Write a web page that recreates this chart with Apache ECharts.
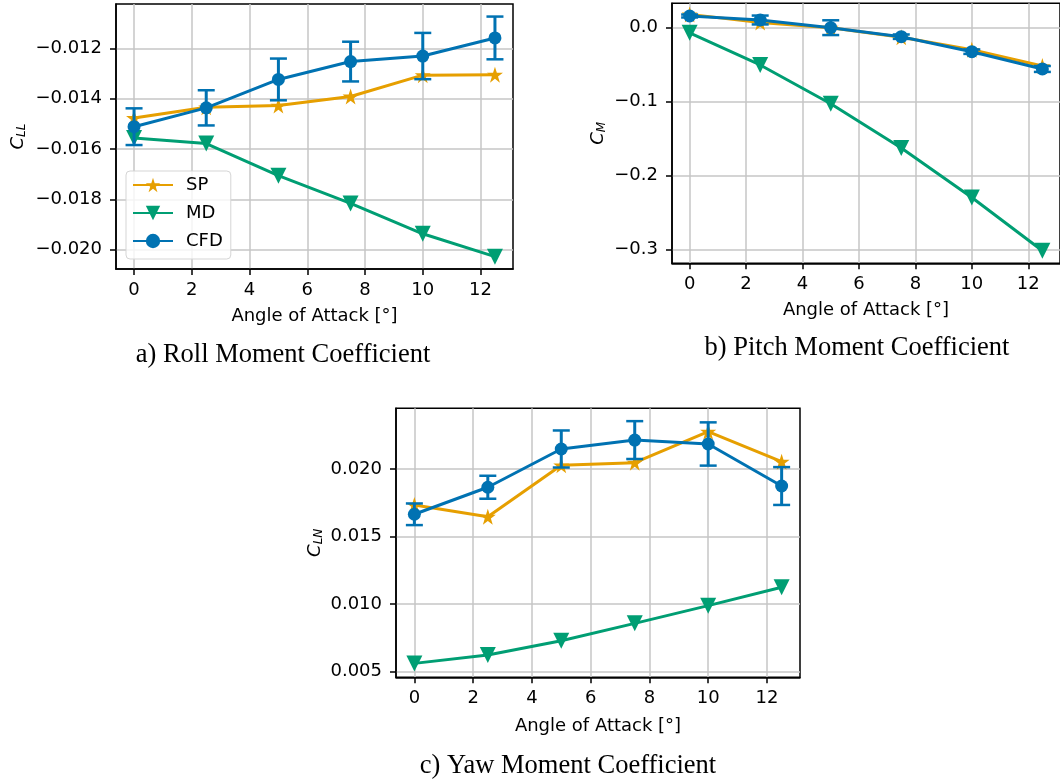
<!DOCTYPE html>
<html>
<head>
<meta charset="utf-8">
<script src="https://cdn.jsdelivr.net/npm/echarts@6/dist/echarts.min.js"></script>
<style>html,body{margin:0;padding:0;background:#fff}#c{width:1060px;height:783px}</style>
</head>
<body>
<div id="c"></div>
<script>
// ---- data ----
const aoa = [0, 2.5, 5, 7.5, 10, 12.5];
const xTicks = [0, 2, 4, 6, 8, 10, 12];

// a) Roll moment coefficient
const rollSP = [-0.01476, -0.01434, -0.01427, -0.01391, -0.01306, -0.01304];
const rollMD = [-0.01556, -0.01578, -0.01706, -0.01816, -0.01937, -0.02028];
const rollCFD = [-0.01511, -0.01436, -0.01323, -0.01252, -0.01230, -0.01158];
const rollCFDErr = [0.00073, 0.00070, 0.00083, 0.00079, 0.00092, 0.00085];
const rollTicks = [-0.020, -0.018, -0.016, -0.014, -0.012];

// b) Pitch moment coefficient
const pitchSP = [0.018, 0.007, 0.000, -0.013, -0.030, -0.052];
const pitchMD = [-0.007, -0.0505, -0.103, -0.163, -0.230, -0.302];
const pitchCFD = [0.0158, 0.0104, 0.0000, -0.0122, -0.0325, -0.0559];
const pitchCFDErr = [0.002, 0.006, 0.010, 0.003, 0.003, 0.004];
const pitchTicks = [-0.3, -0.2, -0.1, 0.0];

// c) Yaw moment coefficient
const yawSP = [0.01734, 0.01647, 0.02027, 0.02047, 0.02276, 0.02054];
const yawMD = [0.00562, 0.00624, 0.00730, 0.00858, 0.00989, 0.01125];
const yawCFD = [0.01665, 0.01865, 0.02148, 0.02214, 0.02185, 0.01874];
const yawCFDErr = [0.00080, 0.00085, 0.00137, 0.00140, 0.00160, 0.00140];
const yawTicks = [0.005, 0.010, 0.015, 0.020];

const captions = ['a) Roll Moment Coefficient', 'b) Pitch Moment Coefficient', 'c) Yaw Moment Coefficient'];

// ---- style ----
const FONT = 'DejaVu Sans';
const C_SP = '#E69F00', C_MD = '#009E73', C_CFD = '#0072B2';
const STAR = 'path://M50,0 L61.2,34.5 L97.6,34.5 L68.2,55.9 L79.4,90.5 L50,69.1 L20.6,90.5 L31.8,55.9 L2.4,34.5 L38.8,34.5 Z';

function fmt(d) { return v => (v < 0 ? '\u2212' : '') + Math.abs(v).toFixed(d); }
function zip(xs, ys) { return xs.map((x, i) => [x, ys[i]]); }
function zip3(xs, ys, es) { return xs.map((x, i) => [x, ys[i], es[i]]); }

const axisLine = { show: true, onZero: false, lineStyle: { color: '#000', width: 1.5 } };
const split = { show: true, lineStyle: { color: '#c6c6c6', width: 1.5 } };

function xAx(gi, gap) {
  return {
    type: 'value', gridIndex: gi, min: -0.625, max: 13.125,
    name: 'Angle of Attack [°]', nameLocation: 'middle', nameGap: gap,
    nameTextStyle: { fontFamily: FONT, fontSize: 18, color: '#000' },
    axisLine: axisLine,
    axisTick: { show: true, customValues: xTicks, length: 6, lineStyle: { color: '#000', width: 1.5 } },
    axisLabel: { customValues: xTicks, margin: 12, fontFamily: FONT, fontSize: 18, color: '#000', formatter: v => String(v) },
    splitLine: split
  };
}
function yAx(gi, min, max, ticks, dec, main, sub, gap) {
  return {
    type: 'value', gridIndex: gi, min: min, max: max,
    name: '{c|' + main + '}{s|' + sub + '}', nameLocation: 'middle', nameGap: gap, nameRotate: 90,
    nameTextStyle: {
      rich: {
        c: { fontFamily: FONT, fontStyle: 'italic', fontSize: 18, color: '#000' },
        s: { fontFamily: FONT, fontStyle: 'italic', fontSize: 12, color: '#000', verticalAlign: 'bottom', padding: [8, 0, 0, 0] }
      }
    },
    axisLine: axisLine,
    axisTick: { show: true, customValues: ticks, length: 6, lineStyle: { color: '#000', width: 1.5 } },
    axisLabel: { customValues: ticks, margin: 14, fontFamily: FONT, fontSize: 18, color: '#000', formatter: fmt(dec) },
    splitLine: split
  };
}

function errSeries(gi, ys, es) {
  return {
    type: 'custom', name: 'CFD', xAxisIndex: gi, yAxisIndex: gi, z: 3,
    data: zip3(aoa, ys, es), encode: { x: 0, y: 1 },
    renderItem: function (params, api) {
      const x = api.value(0), y = api.value(1), e = api.value(2);
      const t = api.coord([x, y + e]), b = api.coord([x, y - e]);
      const w = 8.5, st = { stroke: C_CFD, lineWidth: 2.5 };
      return {
        type: 'group', children: [
          { type: 'line', shape: { x1: t[0], y1: t[1], x2: b[0], y2: b[1] }, style: { stroke: C_CFD, lineWidth: 3 } },
          { type: 'line', shape: { x1: t[0] - w, y1: t[1], x2: t[0] + w, y2: t[1] }, style: st },
          { type: 'line', shape: { x1: b[0] - w, y1: b[1], x2: b[0] + w, y2: b[1] }, style: st }
        ]
      };
    }
  };
}
function lineSeries(gi, name, ys, color, symbol, size, rot, z) {
  return {
    type: 'line', name: name, xAxisIndex: gi, yAxisIndex: gi, z: z,
    data: zip(aoa, ys), symbol: symbol, symbolSize: size, symbolRotate: rot,
    showAllSymbol: true, clip: false,
    itemStyle: { color: color, borderWidth: 0 },
    lineStyle: { color: color, width: 3 }
  };
}
function groupSeries(gi, sp, md, cfd, err) {
  return [
    lineSeries(gi, 'SP', sp, C_SP, STAR, 16, 0, 2),
    lineSeries(gi, 'MD', md, C_MD, 'triangle', 16, 180, 2),
    lineSeries(gi, 'CFD', cfd, C_CFD, 'circle', 13, 0, 4),
    errSeries(gi, cfd, err)
  ];
}

const gridStyle = { show: true, borderColor: '#000', borderWidth: 1.5, backgroundColor: 'transparent' };

const option = {
  animation: false,
  backgroundColor: '#fff',
  grid: [
    Object.assign({ left: 116, top: 4, width: 397, height: 265 }, gridStyle),
    Object.assign({ left: 672, top: 3.3, width: 393, height: 260 }, gridStyle),
    Object.assign({ left: 396, top: 408.3, width: 404, height: 269 }, gridStyle)
  ],
  xAxis: [xAx(0, 38), xAx(1, 38), xAx(2, 40)],
  yAxis: [
    yAx(0, -0.02077, -0.01023, rollTicks, 3, 'C', 'LL', 88),
    yAx(1, -0.319, 0.033, pitchTicks, 1, 'C', 'M', 64),
    yAx(2, 0.00459, 0.02449, yawTicks, 3, 'C', 'LN', 71)
  ],
  legend: {
    left: 126, top: 171, orient: 'vertical', data: ['SP', 'MD', 'CFD'],
    itemWidth: 40, itemHeight: 18, itemGap: 10, padding: [5, 8, 9, 6],
    textStyle: { fontFamily: FONT, fontSize: 18, color: '#000', padding: [0, 0, 0, 8] },
    backgroundColor: 'rgba(255,255,255,0.8)', borderColor: '#d5d5d5', borderWidth: 1, borderRadius: 4,
    selectedMode: false
  },
  graphic: [
    { type: 'text', x: 283, y: 355, style: { text: captions[0], font: '26.5px "Liberation Serif"', fill: '#000', textAlign: 'center', textVerticalAlign: 'middle' } },
    { type: 'text', x: 857, y: 348, style: { text: captions[1], font: '26.5px "Liberation Serif"', fill: '#000', textAlign: 'center', textVerticalAlign: 'middle' } },
    { type: 'text', x: 568, y: 766, style: { text: captions[2], font: '26.5px "Liberation Serif"', fill: '#000', textAlign: 'center', textVerticalAlign: 'middle' } }
  ],
  series: [].concat(
    groupSeries(0, rollSP, rollMD, rollCFD, rollCFDErr),
    groupSeries(1, pitchSP, pitchMD, pitchCFD, pitchCFDErr),
    groupSeries(2, yawSP, yawMD, yawCFD, yawCFDErr)
  )
};

const chart = echarts.init(document.getElementById('c'), null, { renderer: 'canvas' });
chart.setOption(option);
</script>
</body>
</html>
